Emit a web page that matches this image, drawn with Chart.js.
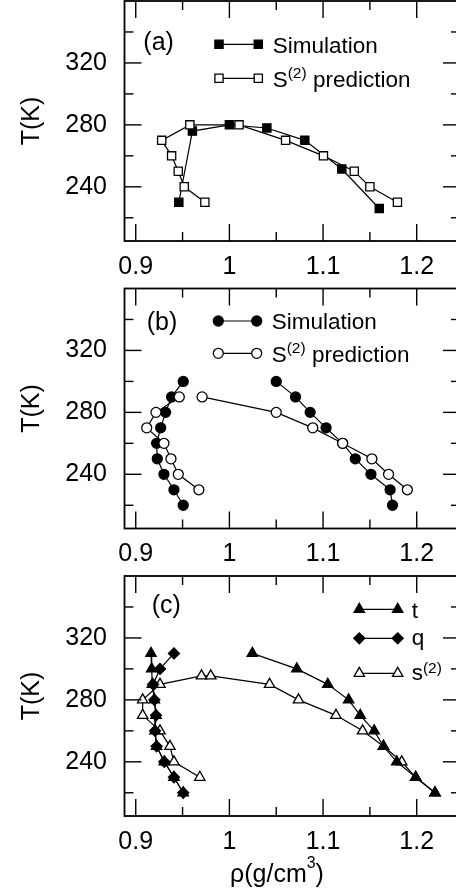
<!DOCTYPE html>
<html><head><meta charset="utf-8">
<script src="https://cdn.jsdelivr.net/npm/chart.js@4.4.1/dist/chart.umd.min.js"></script>
<style>
html,body{margin:0;padding:0;background:#fff;overflow:hidden;}
body{width:456px;height:893px;position:relative;}
canvas{position:absolute;left:0;display:block;}
</style></head><body>
<canvas id="pa" width="460" height="288" style="top:0px"></canvas>
<canvas id="pb" width="460" height="288" style="top:287px"></canvas>
<canvas id="pc" width="460" height="318" style="top:575px"></canvas>
<script>
// ---------- data ----------
const xTicks = [0.9, 1.0, 1.1, 1.2];
const xTickLabels = ['0.9', '1', '1.1', '1.2'];
const xMinorTicks = [0.95, 1.05, 1.15];
const yTicks = [240, 280, 320];
const yTickLabels = ['240', '280', '320'];
const yMinorTicks = [220, 260, 300, 340];

// panel (a)
const rhoSimA  = [0.946, 0.9605, 1.000, 1.040, 1.0805, 1.120, 1.160];
const tSimA    = [230, 276, 280, 278, 270, 251.5, 226];
const rhoPredA = [0.9738, 0.9518, 0.9454, 0.9383, 0.9277, 0.9578, 1.0103, 1.060, 1.1004, 1.1333, 1.150, 1.1794];
const tPredA   = [230, 240, 250, 260, 270, 280, 280, 270, 260, 250, 240, 230];

// panel (b)
const rhoSimB1  = [0.9507, 0.9408, 0.9301, 0.9230, 0.9223, 0.9266, 0.9319, 0.9383, 0.9507];
const tSimB1    = [220, 230, 240, 250, 260, 270, 280, 290, 300];
const rhoSimB2  = [1.050, 1.0706, 1.0862, 1.1032, 1.1209, 1.1344, 1.1511, 1.1716, 1.1741];
const tSimB2    = [300, 290, 280, 270, 260, 250, 240, 230, 220];
const rhoPredB1 = [0.9674, 0.9454, 0.9376, 0.9301, 0.9117, 0.9216, 0.9465];
const tPredB1   = [230, 240, 250, 260, 270, 280, 290];
const rhoPredB2 = [0.9709, 1.050, 1.089, 1.1209, 1.1521, 1.1699, 1.190];
const tPredB2   = [290, 280, 270, 260, 250, 240, 230];

// panel (c)
const rhoT1 = [0.9163, 0.9170, 0.9177, 0.9199, 0.9216, 0.9206, 0.9223, 0.9305, 0.9408, 0.9507];
const tT1   = [310, 300, 290, 280, 270, 260, 250, 240, 230, 220];
const rhoT2 = [1.0245, 1.072, 1.105, 1.1273, 1.1397, 1.1546, 1.1645, 1.1787, 1.1989, 1.2195];
const tT2   = [310, 300, 290, 280, 270, 260, 250, 240, 230, 220];
const rhoQ  = [0.9408, 0.9259, 0.9185, 0.9199, 0.9216, 0.9206, 0.9223, 0.9305, 0.9408, 0.9507];
const tQ    = [310, 300, 290, 280, 270, 260, 250, 240, 230, 220];
const rhoS2 = [0.9684, 0.9408, 0.9365, 0.9259, 0.9074, 0.9074, 0.9259, 0.9702, 0.9801, 1.0429, 1.0738, 1.1138, 1.1422, 1.1645, 1.184, 1.1989, 1.2195];
const tS2   = [230, 240, 250, 260, 270, 280, 290, 295.5, 295.5, 290, 280, 270, 260, 250, 240, 230, 220];

// ---------- setup ----------
const F = '"Liberation Sans", Arial, Helvetica, sans-serif';
const X_MIN = 0.888, X_MAX = 1.2462, Y_MIN = 205, Y_MAX = 360;
const pts = (xs, ys) => xs.map((v, i) => ({x: v, y: ys[i]}));

function ds(label, xs, ys, style, fill, r, order) {
  return {label, data: pts(xs, ys), showLine: true, borderColor: '#000', borderWidth: 1.2,
    pointStyle: style, pointRadius: r, pointHoverRadius: r, pointBackgroundColor: fill,
    pointBorderColor: '#000', pointBorderWidth: 1.3, tension: 0, order};
}

function marker(ctx, style, fill, r, x, y) {
  ctx.save();
  ctx.fillStyle = fill; ctx.strokeStyle = '#000'; ctx.lineWidth = 1.3;
  ctx.beginPath();
  if (style === 'rect') { const s = Math.SQRT1_2 * r; ctx.rect(x - s, y - s, 2 * s, 2 * s); }
  else if (style === 'circle') { ctx.arc(x, y, r, 0, Math.PI * 2); }
  else if (style === 'triangle') {
    ctx.moveTo(x, y - r);
    ctx.lineTo(x + Math.sin(2 * Math.PI / 3) * r, y - Math.cos(2 * Math.PI / 3) * r);
    ctx.lineTo(x + Math.sin(4 * Math.PI / 3) * r, y - Math.cos(4 * Math.PI / 3) * r);
    ctx.closePath();
  } else if (style === 'rectRot') {
    ctx.moveTo(x - r, y); ctx.lineTo(x, y - r); ctx.lineTo(x + r, y); ctx.lineTo(x, y + r); ctx.closePath();
  }
  ctx.fill(); ctx.stroke();
  ctx.restore();
}

const deco = {
  id: 'deco',
  afterDatasetsDraw(chart, args, o) {
    const {ctx, chartArea: a, scales: {x, y}} = chart;
    ctx.save();
    ctx.strokeStyle = '#000';
    ctx.lineWidth = 1.4;
    const seg = (x1, y1, x2, y2) => { ctx.beginPath(); ctx.moveTo(x1, y1); ctx.lineTo(x2, y2); ctx.stroke(); };
    const ML = 17, mL = 9;
    xTicks.forEach(v => { const p = x.getPixelForValue(v); seg(p, a.bottom, p, a.bottom - ML); seg(p, a.top, p, a.top + ML); });
    xMinorTicks.forEach(v => { const p = x.getPixelForValue(v); seg(p, a.bottom, p, a.bottom - mL); seg(p, a.top, p, a.top + mL); });
    yTicks.forEach(v => { const p = y.getPixelForValue(v); seg(a.left, p, a.left + ML, p); seg(a.right, p, a.right - ML, p); });
    yMinorTicks.forEach(v => { const p = y.getPixelForValue(v); seg(a.left, p, a.left + mL, p); seg(a.right, p, a.right - mL, p); });
    ctx.lineWidth = 1.8;
    ctx.strokeRect(a.left, a.top, a.right - a.left, a.bottom - a.top);

    ctx.fillStyle = '#000';
    ctx.textBaseline = 'alphabetic';
    ctx.textAlign = 'left';
    ctx.font = '25px ' + F;
    ctx.fillText(o.label, o.labelX, o.labelY);
    o.legend.forEach(it => {
      ctx.lineWidth = 1.2;
      seg(o.mx1, it.my, o.mx2, it.my);
      marker(ctx, it.style, it.fill, it.r, o.mx1, it.my);
      marker(ctx, it.style, it.fill, it.r, o.mx2, it.my);
      let cx = o.tx;
      it.parts.forEach(p => {
        ctx.font = p.size + 'px ' + F;
        ctx.fillText(p.t, cx, it.base - (p.rise || 0));
        cx += ctx.measureText(p.t).width;
      });
    });
    if (o.xTitle) {
      let cx = o.xTitle.x;
      o.xTitle.parts.forEach(p => {
        ctx.font = p.size + 'px ' + F;
        ctx.fillText(p.t, cx, o.xTitle.base - (p.rise || 0));
        cx += ctx.measureText(p.t).width;
      });
    }
    ctx.restore();
  }
};

function makeChart(id, datasets, padTop, xH, deco_opts) {
  return new Chart(document.getElementById(id), {
    type: 'scatter',
    data: {datasets},
    options: {
      responsive: false, animation: false, events: [],
      layout: {autoPadding: false, padding: {top: padTop, left: 0, right: 0, bottom: 0}},
      plugins: {legend: {display: false}, tooltip: {enabled: false}, deco: deco_opts},
      scales: {
        x: {type: 'linear', min: X_MIN, max: X_MAX,
          afterBuildTicks: ax => { ax.ticks = xTicks.map(v => ({value: v})); },
          ticks: {font: {family: F, size: 25}, color: '#000', padding: 3, maxRotation: 0, autoSkip: false,
            callback: (v, i) => xTickLabels[i]},
          grid: {display: false}, border: {display: false},
          afterFit: s => { s.height = xH; s.paddingLeft = 0; s.paddingRight = 0; }},
        y: {type: 'linear', min: Y_MIN, max: Y_MAX,
          afterBuildTicks: ax => { ax.ticks = yTicks.map(v => ({value: v})); },
          ticks: {font: {family: F, size: 25}, color: '#000', padding: 9.5, autoSkip: false,
            callback: (v, i) => yTickLabels[i]},
          title: {display: true, text: 'T(K)', font: {family: F, size: 25}, color: '#000', padding: {top: 17.5, bottom: 0}},
          grid: {display: false}, border: {display: false},
          afterFit: s => { s.width = 124.5; s.paddingTop = 0; s.paddingBottom = 0; }}
      }
    },
    plugins: [deco]
  });
}

makeChart('pa', [
  ds('S(2) prediction', rhoPredA, tPredA, 'rect', '#fff', 5.8, 1),
  ds('Simulation', rhoSimA, tSimA, 'rect', '#000', 5.8, 2)
], 1, 47, {
  label: '(a)', labelX: 143.3, labelY: 50,
  mx1: 219, mx2: 258.3, tx: 272.7,
  legend: [
    {my: 44.3, base: 53.3, style: 'rect', fill: '#000', r: 5.8, parts: [{t: 'Simulation', size: 22.5}]},
    {my: 78.3, base: 87.3, style: 'rect', fill: '#fff', r: 5.8, parts: [{t: 'S', size: 22.5}, {t: '(2)', size: 15.5, rise: 9}, {t: ' prediction', size: 22.5}]}
  ]
});

makeChart('pb', [
  ds('S(2) prediction', rhoPredB1, tPredB1, 'circle', '#fff', 5, 1),
  ds('S(2) prediction', rhoPredB2, tPredB2, 'circle', '#fff', 5, 1),
  ds('Simulation', rhoSimB1, tSimB1, 'circle', '#000', 5, 2),
  ds('Simulation', rhoSimB2, tSimB2, 'circle', '#000', 5, 2)
], 1.5, 46.5, {
  label: '(b)', labelX: 146.7, labelY: 42.8,
  mx1: 218.3, mx2: 256.7, tx: 271.7,
  legend: [
    {my: 34, base: 42.3, style: 'circle', fill: '#000', r: 5, parts: [{t: 'Simulation', size: 22.5}]},
    {my: 66.3, base: 74.7, style: 'circle', fill: '#fff', r: 5, parts: [{t: 'S', size: 22.5}, {t: '(2)', size: 15.5, rise: 9}, {t: ' prediction', size: 22.5}]}
  ]
});

makeChart('pc', [
  ds('q', rhoQ, tQ, 'rectRot', '#000', 5.5, 1),
  ds('t', rhoT1, tT1, 'triangle', '#000', 6, 2),
  ds('t', rhoT2, tT2, 'triangle', '#000', 6, 2),
  ds('s(2)', rhoS2, tS2, 'triangle', '#fff', 6, 3)
], 1, 77, {
  label: '(c)', labelX: 151.7, labelY: 37.8,
  mx1: 359.3, mx2: 397.7, tx: 411.7,
  legend: [
    {my: 34.3, base: 43.3, style: 'triangle', fill: '#000', r: 6, parts: [{t: 't', size: 22.5}]},
    {my: 63.3, base: 70, style: 'rectRot', fill: '#000', r: 5.5, parts: [{t: 'q', size: 22.5}]},
    {my: 98.3, base: 105, style: 'triangle', fill: '#fff', r: 6, parts: [{t: 's', size: 22.5}, {t: '(2)', size: 15.5, rise: 6.6}]}
  ],
  xTitle: {x: 230, base: 307, parts: [{t: 'ρ(g/cm', size: 25}, {t: '3', size: 16, rise: 14}, {t: ')', size: 25}]}
});
</script></body></html>
